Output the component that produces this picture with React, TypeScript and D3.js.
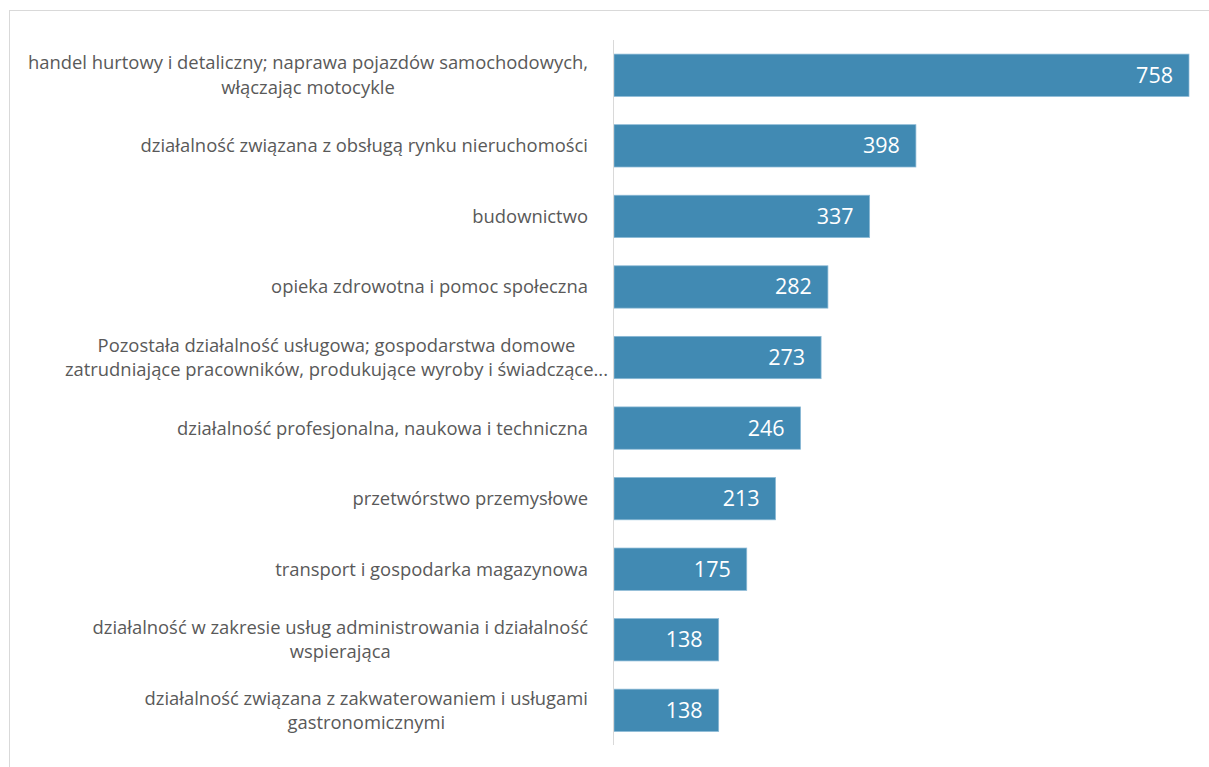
import React, { useEffect, useRef } from "react";
import * as d3 from "d3";

const categories: string[][] = [
  ["handel hurtowy i detaliczny; naprawa pojazdów samochodowych,", "włączając motocykle"],
  ["działalność związana z obsługą rynku nieruchomości"],
  ["budownictwo"],
  ["opieka zdrowotna i pomoc społeczna"],
  ["Pozostała działalność usługowa; gospodarstwa domowe", "zatrudniające pracowników, produkujące wyroby i świadczące..."],
  ["działalność profesjonalna, naukowa i techniczna"],
  ["przetwórstwo przemysłowe"],
  ["transport i gospodarka magazynowa"],
  ["działalność w zakresie usług administrowania i działalność", "wspierająca"],
  ["działalność związana z zakwaterowaniem i usługami", "gastronomicznymi"],
];
const values: number[] = [758, 398, 337, 282, 273, 246, 213, 175, 138, 138];

const W = 1209;
const H = 767;
const FONT = "'Open Sans', 'Noto Sans', sans-serif";

export default function App() {
  const ref = useRef<SVGSVGElement | null>(null);

  useEffect(() => {
    const svg = d3.select(ref.current);
    svg.selectAll("*").remove();

    const x0 = 614;
    const x = d3.scaleLinear().domain([0, 758]).range([x0, 1189]);
    const y = d3
      .scaleBand<number>()
      .domain(d3.range(categories.length))
      .range([40, 745.6])
      .paddingInner(0.4)
      .paddingOuter(0.2);

    // border
    svg
      .append("rect")
      .attr("x", 9.5)
      .attr("y", 10.5)
      .attr("width", W + 20)
      .attr("height", H + 20)
      .attr("fill", "#fff")
      .attr("stroke", "#d9d9d9")
      .attr("stroke-width", 1);

    // bars
    svg
      .selectAll("rect.bar")
      .data(values)
      .enter()
      .append("rect")
      .attr("class", "bar")
      .attr("x", x0)
      .attr("y", (_, i) => y(i)!)
      .attr("width", (d) => x(d) - x0)
      .attr("height", y.bandwidth())
      .attr("fill", "#418ab3")
      .attr("stroke", "#8cbad6")
      .attr("stroke-width", 0.75);

    // axis line
    svg
      .append("line")
      .attr("x1", x0 - 0.5)
      .attr("x2", x0 - 0.5)
      .attr("y1", 40)
      .attr("y2", 745)
      .attr("stroke", "#d9d9d9")
      .attr("stroke-width", 1);

    // value labels
    svg
      .selectAll("text.val")
      .data(values)
      .enter()
      .append("text")
      .attr("class", "val")
      .attr("x", (d) => x(d) - 16)
      .attr("y", (_, i) => y(i)! + y.bandwidth() / 2)
      .attr("dy", "0.35em")
      .attr("text-anchor", "end")
      .attr("fill", "#ffffff")
      .attr("font-family", FONT)
      .attr("font-size", 21.5)
      .text((d) => String(d));

    // category labels
    const lineH = 24.5;
    const rightEdge = 588;
    categories.forEach((lines, i) => {
      const cy = y(i)! + y.bandwidth() / 2;
      const g = svg.append("g");
      const texts = lines.map((ln, k) =>
        g
          .append("text")
          .attr("y", cy + (k - (lines.length - 1) / 2) * lineH)
          .attr("dy", "0.35em")
          .attr("text-anchor", "middle")
          .attr("fill", "#595959")
          .attr("font-family", FONT)
          .attr("font-size", 18.4)
          .text(ln)
      );
      const maxW = d3.max(texts, (t) => (t.node() as SVGTextElement).getComputedTextLength()) || 0;
      const truncated = lines[lines.length - 1].endsWith("...");
      const edge = truncated ? rightEdge + 20 : rightEdge;
      texts.forEach((t) => t.attr("x", edge - maxW / 2));
    });
  }, []);

  return (
    <svg
      ref={ref}
      width={W}
      height={H}
      style={{ position: "absolute", left: 0, top: 0, display: "block" }}
    />
  );
}
